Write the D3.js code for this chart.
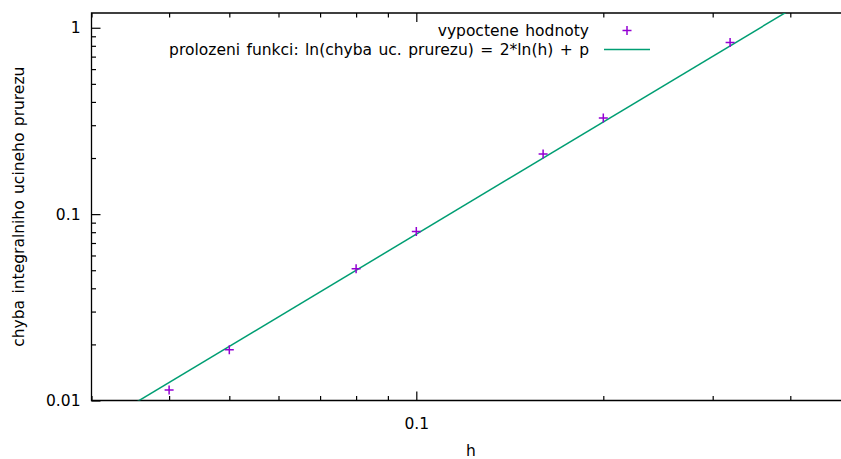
<!DOCTYPE html>
<html>
<head>
<meta charset="utf-8">
<script src="https://cdn.jsdelivr.net/npm/d3@7"></script>
<style>
  body { margin: 0; background: #fff; }
  text { font-family: "DejaVu Sans", sans-serif; fill: #000; word-spacing: 1.5px; }
</style>
</head>
<body>
<svg id="svg-chyba"></svg>
<script>
var width = 841,
    height = 459,
    fontSize = 15.5;

// values
var hValues = [0.04, 0.05, 0.08, 0.1, 0.16, 0.2, 0.32];
var errValues = [0.0114, 0.0187, 0.0509, 0.0806, 0.210, 0.328, 0.833];
// fitted parameter: ln(err) = 2*ln(h) + p
var fitP = 2.055;
var xDomain = [0.03, 0.5],
    yDomain = [0.01, 1.2];
var xMajor = [0.1],
    yMajor = [0.01, 0.1, 1];
var xLabel = 'h',
    yLabel = 'chyba integralniho ucineho prurezu',
    legendLabels = ['vypoctene hodnoty', 'prolozeni funkci: ln(chyba uc. prurezu) = 2*ln(h) + p'];

var pointColor = '#9400d3',
    lineColor = '#009e73';

var plotLeft = 91.5, plotRight = 850.5, plotTop = 13, plotBottom = 400.5;

var x = d3.scaleLog().domain(xDomain).range([plotLeft, plotRight]),
    y = d3.scaleLog().domain(yDomain).range([plotBottom, plotTop]);

var svg = d3.select('#svg-chyba')
  .attr('width', width)
  .attr('height', height);

svg.append('defs').append('clipPath')
  .attr('id', 'clip')
  .append('rect')
  .attr('x', plotLeft).attr('y', plotTop)
  .attr('width', plotRight - plotLeft).attr('height', plotBottom - plotTop);

var xMinor = x.ticks().filter(function(d) { return xMajor.indexOf(+d.toPrecision(3)) < 0; }),
    yMinor = y.ticks().filter(function(d) { return yMajor.indexOf(+d.toPrecision(3)) < 0; });

function fmt(d) { return String(+d.toPrecision(3)); }

function noDomain(g) { g.select('.domain').remove(); }

// bottom axis (ticks inward)
svg.append('g')
  .attr('transform', 'translate(0,' + plotBottom + ')')
  .call(d3.axisBottom(x).tickValues(xMajor).tickSize(-9).tickPadding(17).tickFormat(fmt))
  .call(noDomain);
svg.append('g')
  .attr('transform', 'translate(0,' + plotBottom + ')')
  .call(d3.axisBottom(x).tickValues(xMinor).tickSize(-4.5).tickFormat(''))
  .call(noDomain);

// top mirror ticks
svg.append('g')
  .attr('transform', 'translate(0,' + plotTop + ')')
  .call(d3.axisTop(x).tickValues(xMajor).tickSize(-9).tickFormat(''))
  .call(noDomain);
svg.append('g')
  .attr('transform', 'translate(0,' + plotTop + ')')
  .call(d3.axisTop(x).tickValues(xMinor).tickSize(-4.5).tickFormat(''))
  .call(noDomain);

// left axis
svg.append('g')
  .attr('transform', 'translate(' + plotLeft + ',0)')
  .call(d3.axisLeft(y).tickValues(yMajor).tickSize(-9).tickPadding(11).tickFormat(fmt))
  .call(noDomain);
svg.append('g')
  .attr('transform', 'translate(' + plotLeft + ',0)')
  .call(d3.axisLeft(y).tickValues(yMinor).tickSize(-4.5).tickFormat(''))
  .call(noDomain);

svg.selectAll('.tick text')
  .attr('font-family', '"DejaVu Sans", sans-serif')
  .attr('font-size', fontSize);
svg.selectAll('.tick line')
  .attr('stroke', '#000')
  .attr('stroke-width', 1.2);

// border (right side runs past the picture)
svg.append('path')
  .attr('d', 'M' + plotRight + ',' + plotTop + 'H' + plotLeft + 'V' + plotBottom + 'H' + plotRight)
  .attr('fill', 'none')
  .attr('stroke', '#000')
  .attr('stroke-width', 1.3);

// fit line
var fit = function(h) { return Math.exp(2 * Math.log(h) + fitP); };
svg.append('path')
  .datum(xDomain)
  .attr('clip-path', 'url(#clip)')
  .attr('d', d3.line().x(function(d) { return x(d); }).y(function(d) { return y(fit(d)); }))
  .attr('fill', 'none')
  .attr('stroke', lineColor)
  .attr('stroke-width', 1.5);

// points
var pts = hValues.map(function(h, i) { return [h, errValues[i]]; });
svg.append('g')
  .selectAll('path')
  .data(pts)
  .enter().append('path')
  .attr('transform', function(d) { return 'translate(' + x(d[0]) + ',' + y(d[1]) + ')'; })
  .attr('d', 'M-4.5,0H4.5M0,-4.5V4.5')
  .attr('stroke', pointColor)
  .attr('stroke-width', 1.5);

// legend
var legendX = 589, sampleX = 604, sampleW = 46, rowY = [30.5, 49.5];
var legend = svg.append('g');
legend.selectAll('text')
  .data(legendLabels)
  .enter().append('text')
  .attr('x', legendX)
  .attr('y', function(d, i) { return rowY[i]; })
  .attr('dy', '0.35em')
  .attr('text-anchor', 'end')
  .attr('font-size', fontSize)
  .text(function(d) { return d; });
legend.append('path')
  .attr('transform', 'translate(' + (sampleX + sampleW / 2) + ',' + rowY[0] + ')')
  .attr('d', 'M-4.5,0H4.5M0,-4.5V4.5')
  .attr('stroke', pointColor)
  .attr('stroke-width', 1.5);
legend.append('line')
  .attr('x1', sampleX).attr('x2', sampleX + sampleW)
  .attr('y1', rowY[1]).attr('y2', rowY[1])
  .attr('stroke', lineColor)
  .attr('stroke-width', 1.5);

// axis titles
svg.append('text')
  .attr('x', 471)
  .attr('y', 456)
  .attr('text-anchor', 'middle')
  .attr('font-size', fontSize)
  .text(xLabel);
svg.append('text')
  .attr('transform', 'translate(24,' + ((plotTop + plotBottom) / 2) + ') rotate(-90)')
  .attr('text-anchor', 'middle')
  .attr('font-size', fontSize)
  .text(yLabel);
</script>
</body>
</html>
